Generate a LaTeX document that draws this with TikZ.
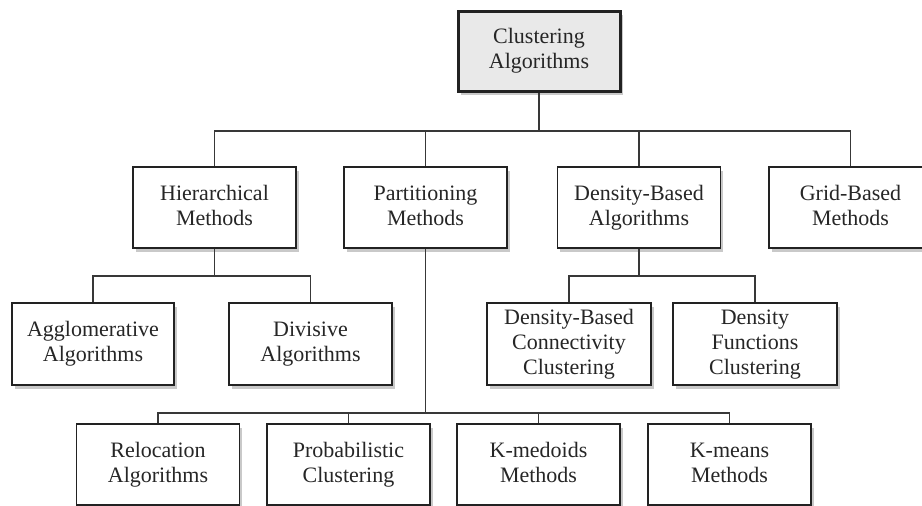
\documentclass[tikz,border=0pt]{standalone}
\usepackage{fontspec}
\setmainfont{Liberation Serif}
\usetikzlibrary{shadows}
\definecolor{txt}{HTML}{262626}
\definecolor{edge}{HTML}{222222}
\definecolor{topfill}{HTML}{E9E9E9}
\tikzset{
  box/.style={draw=edge, line width=1.8pt, fill=white, minimum width=163pt, minimum height=81pt,
    align=center, text=txt, inner sep=2pt,
    font=\fontsize{22}{25}\selectfont,
    drop shadow={shadow xshift=2.5pt, shadow yshift=-3.5pt, opacity=0.35, fill=black!60}},
  topbox/.style={box, line width=3pt, fill=topfill, minimum width=162pt, minimum height=80pt},
  conn/.style={draw=edge!90, line width=1.5pt}
}
\begin{document}
\begin{tikzpicture}[x=1pt,y=-1pt]
\useasboundingbox (0,0) rectangle (922,506);
\clip (0,0) rectangle (922,506);
\fill[white] (0,0) rectangle (922,506);
% nodes
\node[topbox] (top) at (539,51) {\strut Clustering\\Algorithms\strut};
\node[box] (hier) at (214.5,207.5) {\strut Hierarchical\\Methods\strut};
\node[box] (part) at (425.5,207.5) {\strut Partitioning\\Methods\strut};
\node[box] (dba) at (639,207.5) {\strut Density-Based\\Algorithms\strut};
\node[box] (grid) at (850.5,207.5) {\strut Grid-Based\\Methods\strut};
\node[box, minimum width=162pt, minimum height=82pt] (agg) at (93,344) {\strut Agglomerative\\Algorithms\strut};
\node[box, minimum height=82pt] (div) at (310.5,344) {\strut Divisive\\Algorithms\strut};
\node[box, minimum width=164pt, minimum height=82pt] (dbc) at (569,344) {\strut Density-Based\\Connectivity\\Clustering\strut};
\node[box, minimum width=164pt, minimum height=82pt] (dfc) at (755,344) {\strut Density\\Functions\\Clustering\strut};
\node[box] (rel) at (158,464.5) {\strut Relocation\\Algorithms\strut};
\node[box] (prob) at (348.5,464.5) {\strut Probabilistic\\Clustering\strut};
\node[box] (kmed) at (538.5,464.5) {\strut K-medoids\\Methods\strut};
\node[box] (kmeans) at (729.5,464.5) {\strut K-means\\Methods\strut};
% bar points
\coordinate (b0) at (539,131);
\coordinate (b1) at (214.5,276);
\coordinate (b2) at (639,276);
\coordinate (b3) at (425.5,413);
% connectors
\draw[conn] (top.south) -- (b0);
\draw[conn] (hier.north) |- (b0);
\draw[conn] (part.north) |- (b0);
\draw[conn] (dba.north) |- (b0);
\draw[conn] (grid.north) |- (b0);
\draw[conn] (hier.south) -- (b1);
\draw[conn] (agg.north) |- (b1);
\draw[conn] (div.north) |- (b1);
\draw[conn] (dba.south) -- (b2);
\draw[conn] (dbc.north) |- (b2);
\draw[conn] (dfc.north) |- (b2);
\draw[conn] (part.south) -- (b3);
\draw[conn] (rel.north) |- (b3);
\draw[conn] (prob.north) |- (b3);
\draw[conn] (kmed.north) |- (b3);
\draw[conn] (kmeans.north) |- (b3);
\end{tikzpicture}
\end{document}
